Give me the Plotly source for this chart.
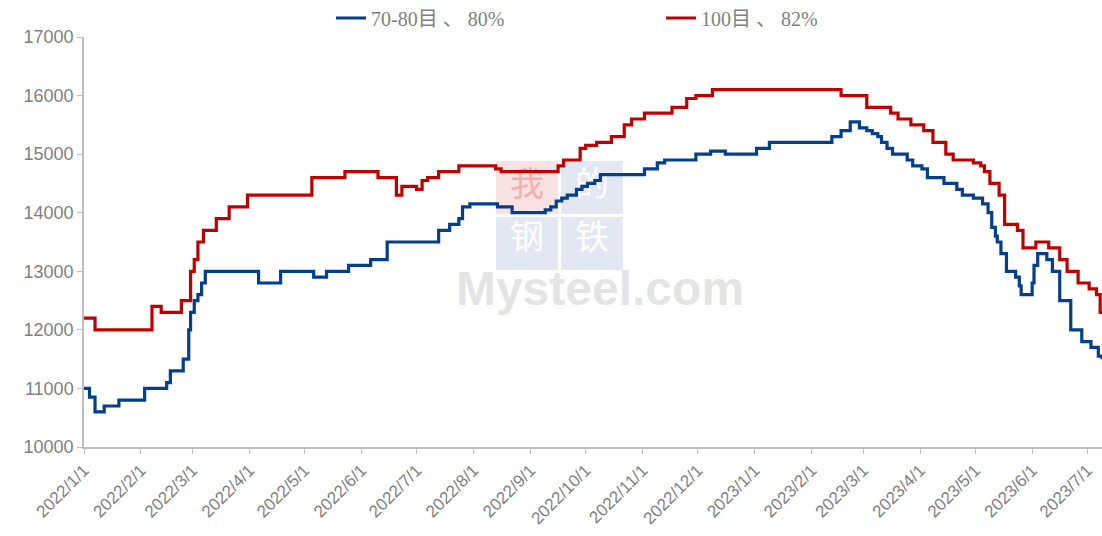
import plotly.graph_objects as go
import pandas as pd

blue_name = "70-80目 、 80%"
blue_dates = ["2022-01-01","2022-01-04","2022-01-07","2022-01-12","2022-01-20","2022-02-03","2022-02-15","2022-02-17",
              "2022-02-24","2022-02-27","2022-02-28","2022-03-02","2022-03-04","2022-03-06","2022-03-08","2022-04-06",
              "2022-04-18","2022-05-06","2022-05-13","2022-05-25","2022-06-06","2022-06-15","2022-07-13","2022-07-19",
              "2022-07-24","2022-07-26","2022-07-30","2022-08-14","2022-08-22","2022-09-09","2022-09-12","2022-09-15",
              "2022-09-18","2022-09-21","2022-09-26","2022-09-29","2022-10-02","2022-10-06","2022-10-09","2022-11-02",
              "2022-11-09","2022-11-13","2022-11-30","2022-12-08","2022-12-16","2023-01-02","2023-01-09","2023-02-12",
              "2023-02-17","2023-02-22","2023-02-27","2023-03-03","2023-03-06","2023-03-09","2023-03-11","2023-03-14",
              "2023-03-17","2023-03-25","2023-03-28","2023-04-02","2023-04-05","2023-04-14","2023-04-21","2023-04-24",
              "2023-04-30","2023-05-05","2023-05-08","2023-05-10","2023-05-12","2023-05-13","2023-05-15","2023-05-18",
              "2023-05-23","2023-05-25","2023-05-26","2023-06-01","2023-06-02","2023-06-04","2023-06-09","2023-06-12",
              "2023-06-16","2023-06-22","2023-06-28","2023-07-03","2023-07-07","2023-07-09"]
blue_values = [11000,10850,10600,10700,10800,11000,11100,11300,
               11500,12000,12300,12500,12600,12800,13000,12800,
               13000,12900,13000,13100,13200,13500,13700,13800,
               13900,14100,14150,14100,14000,14050,14100,14200,
               14250,14300,14400,14450,14500,14550,14650,14750,
               14850,14900,15000,15050,15000,15100,15200,15300,
               15400,15550,15450,15400,15350,15300,15200,15100,
               15000,14900,14800,14750,14600,14500,14400,14300,
               14250,14150,14000,13750,13600,13500,13300,13000,
               12900,12750,12600,12800,13100,13300,13200,13000,
               12500,12000,11800,11700,11550,11500]

red_name = "100目 、 82%"
red_dates = ["2022-01-01","2022-01-07","2022-02-07","2022-02-12","2022-02-23","2022-02-28","2022-03-02","2022-03-04",
             "2022-03-07","2022-03-14","2022-03-21","2022-03-31","2022-05-05","2022-05-23","2022-06-10","2022-06-20",
             "2022-06-23","2022-07-01","2022-07-04","2022-07-07","2022-07-13","2022-07-24","2022-08-13","2022-08-16",
             "2022-09-16","2022-09-19","2022-09-28","2022-10-01","2022-10-07","2022-10-15","2022-10-22","2022-10-26",
             "2022-11-02","2022-11-17","2022-11-25","2022-11-30","2022-12-09","2023-02-17","2023-03-03","2023-03-16",
             "2023-03-20","2023-03-27","2023-04-03","2023-04-08","2023-04-15","2023-04-19","2023-04-30","2023-05-04",
             "2023-05-06","2023-05-09","2023-05-14","2023-05-17","2023-05-24","2023-05-27","2023-06-03","2023-06-10",
             "2023-06-16","2023-06-20","2023-06-26","2023-07-02","2023-07-06","2023-07-08","2023-07-09"]
red_values = [12200,12000,12400,12300,12500,13000,13200,13500,
              13700,13900,14100,14300,14600,14700,14600,14300,
              14450,14400,14550,14600,14700,14800,14750,14700,
              14800,14900,15100,15150,15200,15300,15500,15600,
              15700,15800,15950,16000,16100,16000,15800,15700,
              15600,15500,15400,15200,15000,14900,14850,14800,
              14700,14500,14300,13800,13700,13400,13500,13400,
              13200,13000,12800,12700,12600,12300,12300]

y_ticks = [10000, 11000, 12000, 13000, 14000, 15000, 16000, 17000]
x_start, x_end = "2022-01-01", "2023-07-09"

# body margin is removed in the page, so the figure sits at the window origin
OX, OY = 0, 0
W, H = 1102, 536
L, R, T, B = 84, 0, 37, 89
pw, ph = W - L - R, H - T - B

# helpers take window pixel coordinates
def px(x):
    return (x - OX - L) / pw

def py(y):
    return (H - B - (y - OY)) / ph

_t0 = pd.Timestamp(x_start)
_span = (pd.Timestamp(x_end) - _t0)
def dx(x):
    return (_t0 + _span * px(x)).strftime("%Y-%m-%d %H:%M")
def dy(y):
    return 10000 + 7000 * py(y)

fig = go.Figure()

# watermark text (drawn first so the lines pass over it)
wm_chars = ["我", "的", "钢", "铁"]
wm_cols = ["rgba(245,170,170,0.9)", "rgba(255,255,255,1)", "rgba(255,255,255,1)", "rgba(255,255,255,1)"]
wm_pos = [(527, 187), (592, 187), (527, 240), (592, 240)]
for ch, col, (cx, cy) in zip(wm_chars, wm_cols, wm_pos):
    fig.add_trace(go.Scatter(x=[dx(cx)], y=[dy(cy)], mode="text", text=[ch], hoverinfo="skip", showlegend=False,
                             textfont=dict(family="Noto Sans CJK SC", size=34, color=col)))
fig.add_trace(go.Scatter(x=[dx(600)], y=[dy(293)], mode="text", text=["<b>Mysteel.com</b>"], hoverinfo="skip",
                         showlegend=False,
                         textfont=dict(family="Liberation Sans", size=48, color="rgba(205,205,205,0.55)")))

fig.add_trace(go.Scatter(x=blue_dates, y=blue_values, name=blue_name, mode="lines",
                         line=dict(color="#033F8D", width=3.2, shape="hv")))
fig.add_trace(go.Scatter(x=red_dates, y=red_values, name=red_name, mode="lines",
                         line=dict(color="#C00000", width=3.2, shape="hv")))

shapes = []
for (x0, y0, x1, y1, col) in [(496, 161, 558, 214, "rgba(240,150,150,0.28)"),
                              (561, 161, 623, 214, "rgba(150,170,210,0.28)"),
                              (496, 217, 558, 270, "rgba(150,170,210,0.28)"),
                              (561, 217, 623, 270, "rgba(150,170,210,0.28)")]:
    shapes.append(dict(type="rect", xref="paper", yref="paper", x0=px(x0), x1=px(x1), y0=py(y1), y1=py(y0),
                       fillcolor=col, line=dict(width=0), layer="below"))

fig.update_layout(
    width=W, height=H,
    margin=dict(l=L, r=R, t=T, b=B, autoexpand=False),
    plot_bgcolor="white", paper_bgcolor="white",
    shapes=shapes,
    showlegend=True,
    legend=dict(orientation="h", x=px(331), xanchor="left", y=py(18), yanchor="middle",
                font=dict(family="Liberation Serif, Noto Sans CJK SC", size=20, color="#7f7f7f"),
                entrywidth=285, entrywidthmode="pixels", bgcolor="rgba(0,0,0,0)"),
    xaxis=dict(type="date", range=[x_start, x_end], tick0="2022-01-01", dtick="M1",
               tickformat="%Y/%-m/%-d", tickangle=-45, showgrid=False, zeroline=False,
               showline=True, linecolor="#BFBFBF", linewidth=1.5, automargin=False,
               ticks="outside", ticklen=5, tickcolor="#BFBFBF",
               tickfont=dict(family="Liberation Sans", size=17, color="#7f7f7f")),
    yaxis=dict(range=[10000, 17000], tickvals=y_ticks, tickformat="d", showgrid=False, zeroline=False,
               showline=True, linecolor="#BFBFBF", linewidth=1.5, automargin=False,
               ticks="outside", ticklen=5, tickcolor="#BFBFBF",
               tickfont=dict(family="Liberation Sans", size=18, color="#7f7f7f")),
)

fig.write_html("out.html", config={"displayModeBar": False},
               post_script="document.body.style.margin='0';document.body.style.overflow='hidden';")
